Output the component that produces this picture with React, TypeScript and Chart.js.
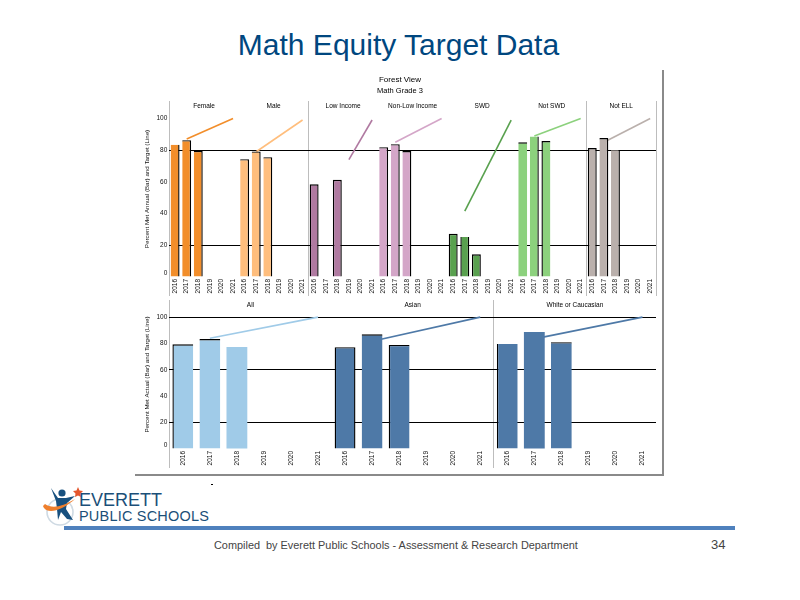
import { useEffect, useRef } from "react";
import { Chart, registerables } from "chart.js";

Chart.register(...registerables);

const years = ["2016", "2017", "2018", "2019", "2020", "2021"];

// top panel, 6 years per group
const topGroups = ["Female", "Male", "Low Income", "Non-Low Income", "SWD", "Not SWD", "Not ELL"];
const topColors = ["#F28E2B", "#FFBE7D", "#B07AA1", "#D4A6C8", "#59A14F", "#8CD17D", "#BAB0AC"];
const femaleActual = [83.4, 86.3, 79.6, null, null, null];
const maleActual = [74.3, 79.2, 75.6, null, null, null];
const lowIncomeActual = [58.5, null, 61.3, null, null, null];
const nonLowActual = [81.9, 83.8, 79.4, null, null, null];
const swdActual = [27.2, 25.3, 14.3, null, null, null];
const notSwdActual = [85, 88.6, 85.7, null, null, null];
const notEllActual = [81.3, 87.6, 80, null, null, null];
const femaleTarget = [null, 87, null, null, null, 100];
const maleTarget = [null, 79, null, null, null, 99];
const lowIncomeTarget = [null, null, null, 74, null, 99];
const nonLowTarget = [null, 85, null, null, null, 100];
const swdTarget = [null, 41.5, null, null, null, 99];
const notSwdTarget = [null, 89, null, null, null, 100];
const notEllTarget = [null, 85, null, null, null, 100];

// bottom panel
const bottomGroups = ["All", "Asian", "White or Caucasian"];
const bottomColors = ["#A0CBE8", "#4E79A7", "#4E79A7"];
const allActual = [79.4, 83.4, 77.4, null, null, null];
const asianActual = [77.2, 87, 78.9, null, null, null];
const whiteActual = [79.7, 88.8, 81, null, null, null];
const allTarget = [null, 84, null, null, null, 100];
const asianTarget = [null, 81.7, null, null, null, 100];
const whiteTarget = [null, 83.5, null, null, null, 100];

const topEdges = [
  "r", "tr", "tr", "", "", "",
  "tr", "tr", "tr", "", "", "",
  "ltr", "", "ltr", "", "", "",
  "tr", "tr", "tr", "", "", "",
  "ltr", "lr", "ltr", "", "", "",
  "t", "r", "lt", "", "", "",
  "ltr", "tr", "r", "", "", "",
];
const bottomEdges = [
  "lt", "t", "", "", "", "",
  "ltr", "t", "lt", "", "", "",
  "l", "", "t", "", "", "",
];

const edgeWidths = (edges: string[]) =>
  edges.map((e) => ({
    top: e.includes("t") ? 1.4 : 0,
    right: e.includes("r") ? 1.4 : 0,
    bottom: 0,
    left: e.includes("l") ? 1.4 : 0,
  }));

const groupLabels = (names: string[], y: number) => ({
  id: "groupLabels",
  afterDraw(chart: any) {
    const { ctx, scales } = chart;
    ctx.save();
    ctx.font = "6.5px 'Liberation Sans'";
    ctx.fillStyle = "#000";
    ctx.textAlign = "center";
    ctx.textBaseline = "middle";
    names.forEach((name, i) => {
      const mid = (scales.x.getPixelForValue(i * 6 + 2) + scales.x.getPixelForValue(i * 6 + 3)) / 2;
      ctx.fillText(name, mid, y);
    });
    ctx.restore();
  },
});

type PanelProps = {
  groups: string[];
  colors: string[];
  actual: (number | null)[][];
  target: (number | null)[][];
  edges: string[];
  dividers: number[];
  lastDivider: boolean;
  refLines: number[];
  yMax: number;
  axisTitle: string;
  heading?: string[];
  left: number;
  top: number;
  width: number;
  height: number;
  padTop: number;
  labelY: number;
};

function Panel(p: PanelProps) {
  const canvasRef = useRef<HTMLCanvasElement | null>(null);

  useEffect(() => {
    if (!canvasRef.current) {
      return;
    }
    const labels = p.groups.flatMap(() => years);
    const chart = new Chart(canvasRef.current, {
      type: "bar",
      data: {
        labels,
        datasets: [
          {
            type: "bar",
            data: p.actual.flat(),
            backgroundColor: p.colors.flatMap((c) => years.map(() => c)),
            borderColor: "#000",
            borderWidth: edgeWidths(p.edges),
            borderSkipped: false,
            barPercentage: 0.77,
            categoryPercentage: 1,
            order: 2,
          },
          // target lines run behind the bars
          ...p.target.map((t, i) => ({
            type: "line",
            data: [...Array(i * 6).fill(null), ...t, ...Array((p.groups.length - i - 1) * 6).fill(null)],
            borderColor: p.colors[i],
            borderWidth: 1.6,
            pointRadius: 0,
            spanGaps: true,
            order: 3,
          })),
        ],
      } as any,
      options: {
        responsive: false,
        animation: false,
        devicePixelRatio: 1,
        layout: { padding: { right: 7, top: p.padTop, bottom: 0, left: 9 } },
        plugins: {
          legend: { display: false },
          tooltip: { enabled: false },
          title: {
            display: !!p.heading,
            text: p.heading ? p.heading[0] : "",
            color: "#000",
            font: { family: "'Liberation Sans'", size: 8, weight: "normal" },
            padding: { top: 5.2, bottom: 1.7 },
          },
          subtitle: {
            display: !!p.heading,
            text: p.heading ? p.heading[1] : "",
            color: "#000",
            font: { family: "'Liberation Sans'", size: 7.5, weight: "normal" },
            padding: { top: 0, bottom: 5.5 },
          },
        },
        scales: {
          x: {
            offset: true,
            border: { display: false },
            grid: {
              offset: true,
              tickLength: 19,
              lineWidth: 1,
              color: (ctx: any) => {
                if (ctx.index === undefined) {
                  return p.lastDivider ? "#bdbdbd" : "transparent";
                }
                return p.dividers.includes(ctx.index) ? "#bdbdbd" : "transparent";
              },
            },
            ticks: {
              autoSkip: false,
              minRotation: 90,
              maxRotation: 90,
              padding: -17,
              color: "#111",
              font: { family: "'Liberation Sans'", size: 6.5 },
            },
            afterFit: (s: any) => {
              s.height = 19;
              s.paddingLeft = 0;
              s.paddingRight = 0;
            },
          },
          y: {
            min: 0,
            max: p.yMax,
            border: { display: false },
            grid: {
              drawTicks: false,
              lineWidth: 1,
              color: (ctx: any) => (p.refLines.includes(ctx.tick?.value) ? "#000" : "transparent"),
            },
            ticks: {
              stepSize: 20,
              includeBounds: false,
              padding: 2,
              color: "#111",
              font: { family: "'Liberation Sans'", size: 6.5 },
              // the zero label sits a little above its tick in the source
              callback: (v: any) => (v === 0 ? ["0", ""] : String(v)),
            },
            title: {
              display: true,
              text: p.axisTitle,
              color: "#111",
              padding: { top: 0, bottom: 0 },
              font: { family: "'Liberation Sans'", size: 6.2 },
            },
            afterFit: (s: any) => {
              s.width = 25.3;
              s.paddingTop = 0;
              s.paddingBottom = 0;
            },
          },
        },
      } as any,
      plugins: [groupLabels(p.groups, p.labelY)],
    });

    return () => chart.destroy();
  }, []);

  return (
    <canvas
      ref={canvasRef}
      width={p.width}
      height={p.height}
      style={{ position: "absolute", left: p.left, top: p.top, width: p.width, height: p.height }}
    />
  );
}

function Logo() {
  return (
    <svg width="46" height="42" viewBox="0 0 46 42" style={{ position: "absolute", left: 42, top: 486 }}>
      <circle cx="18" cy="26" r="13" fill="none" stroke="#CFDAE3" strokeWidth="1.6" />
      <path d="M9 2 L16 12 L24 12 L33 10 L25 17 L24 23 L31 34 L25 33 L19 26 L16 34 L15 23 L14 15 Z" fill="#17507F" />
      <circle cx="20" cy="7" r="3.6" fill="#17507F" />
      <path d="M1 20 C 3 27, 16 28, 33 13 C 20 21, 10 23, 3 18 Z" fill="#EE7F2D" />
      <path d="M36 1 L37.5 4.5 L41 5 L38.5 7.5 L39 11 L36 9.5 L33 11 L33.5 7.5 L31 5 L34.5 4.5 Z" fill="#E4572E" />
    </svg>
  );
}

export default function App() {
  const text = { position: "absolute", fontFamily: "'Liberation Sans'", whiteSpace: "pre" } as const;
  return (
    <div style={{ position: "absolute", left: 0, top: 0, width: 800, height: 600, background: "#fff", overflow: "hidden" }}>
      <div style={{ ...text, left: 0, width: 797, top: 27, textAlign: "center", fontSize: 30, lineHeight: "36px", color: "#00477F" }}>
        Math Equity Target Data
      </div>

      <div
        style={{
          position: "absolute",
          left: 135,
          top: 70,
          width: 527,
          height: 404,
          borderRight: "2px solid #8a8a8a",
          borderBottom: "2px solid #8a8a8a",
        }}
      />
      <Panel
        groups={topGroups}
        colors={topColors}
        actual={[femaleActual, maleActual, lowIncomeActual, nonLowActual, swdActual, notSwdActual, notEllActual]}
        target={[femaleTarget, maleTarget, lowIncomeTarget, nonLowTarget, swdTarget, notSwdTarget, notEllTarget]}
        edges={topEdges}
        dividers={[0, 12, 36]}
        lastDivider={true}
        refLines={[20, 80]}
        yMax={111}
        axisTitle="Percent Met Annual (Bar) and Target (Line)"
        heading={["Forest View", "Math Grade 3"]}
        left={135}
        top={70}
        width={528}
        height={226}
        padTop={0}
        labelY={36}
      />
      <Panel
        groups={bottomGroups}
        colors={bottomColors}
        actual={[allActual, asianActual, whiteActual]}
        target={[allTarget, asianTarget, whiteTarget]}
        edges={bottomEdges}
        dividers={[0, 12]}
        lastDivider={false}
        refLines={[20, 60, 100]}
        yMax={113}
        axisTitle="Percent Met Actual (Bar) and Target (Line)"
        left={135}
        top={296}
        width={528}
        height={172}
        padTop={4}
        labelY={9}
      />

      <div style={{ position: "absolute", left: 211, top: 484, width: 2, height: 1, background: "#000" }} />
      <Logo />
      <div style={{ ...text, left: 79, top: 490, fontSize: 18, lineHeight: "21px", color: "#1B4F78" }}>EVERETT</div>
      <div style={{ ...text, left: 79, top: 508, fontSize: 14.5, lineHeight: "17px", letterSpacing: 0.2, color: "#1B4F78" }}>PUBLIC SCHOOLS</div>
      <div style={{ position: "absolute", left: 64, top: 526, width: 671, height: 4, background: "#4F81BD" }} />
      <div style={{ ...text, left: 214, top: 538, fontSize: 10.9, lineHeight: "14px", color: "#444" }}>
        Compiled  by Everett Public Schools - Assessment &amp; Research Department
      </div>
      <div style={{ ...text, left: 711, top: 537, fontSize: 13, lineHeight: "16px", color: "#444" }}>34</div>
    </div>
  );
}
